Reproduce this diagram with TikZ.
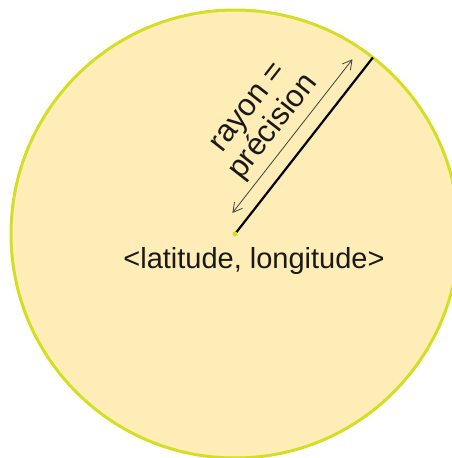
\documentclass[tikz,border=0pt]{standalone}
\usepackage{fontspec}
\setmainfont{Liberation Sans}
\usetikzlibrary{arrows.meta, calc}
\definecolor{zonefill}{RGB}{254,237,182}
\definecolor{zonedraw}{RGB}{212,222,36}

\begin{document}
\begin{tikzpicture}[
    x=1pt, y=1pt,
    zone/.style={circle, draw=zonedraw, fill=zonefill, line width=3pt,
                 minimum size=448pt, inner sep=0pt, outer sep=0pt},
    rayon/.style={line width=2.2pt, draw=black},
    cote/.style={{Straight Barb[length=3.2mm, width=3.6mm]}-{Straight Barb[length=3.2mm, width=3.6mm]},
                 draw=black!75, line width=0.8pt},
    label/.style={font=\fontsize{29}{31}\selectfont, align=center, text=black!90}
]
  \useasboundingbox (0,0) rectangle (452,-458);
  \clip (0,0) rectangle (452,-458);

  % Zone of the position
  \node[zone] (zone) at (235,-234) {};
  \coordinate (centre) at (zone.center);
  \coordinate (bord) at (zone.52);

  % Radius and its dimension arrow
  \draw[rayon] (centre) -- (bord);
  \fill[zonedraw] (centre) circle (2.5pt);
  \coordinate (a1) at ($(centre)+(52:15)+(142:15)$);
  \coordinate (a2) at ($(centre)+(52:210)+(142:15)$);
  \draw[cote] (a1) -- (a2);

  % Labels
  \node[label, rotate=52, font=\fontsize{31}{32}\selectfont] (prec)
    at ($(centre)+(52:108)+(142:49)$) {rayon =\\précision};
  \node[label, anchor=base] (coord) at ($(centre)+(19,-34)$) {<latitude, longitude>};
\end{tikzpicture}
\end{document}
